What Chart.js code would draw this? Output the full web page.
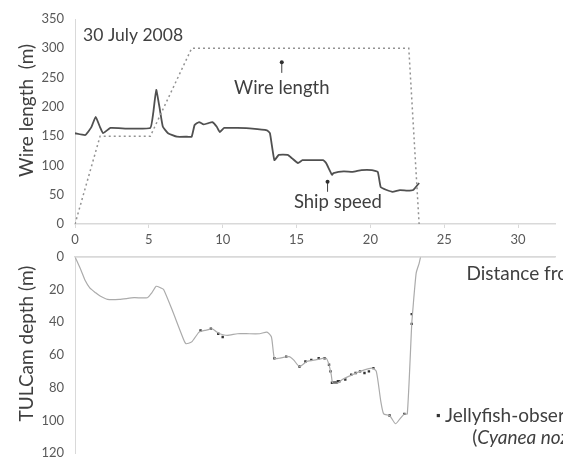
<!DOCTYPE html>
<html><head><meta charset="utf-8">
<script src="https://cdn.jsdelivr.net/npm/chart.js@4"></script>
<style>
html,body{margin:0;padding:0;background:#fff;overflow:hidden;width:563px;height:460px}
#c1{position:absolute;left:0;top:0}
#c2{position:absolute;left:0;top:238px}
</style></head><body>
<canvas id="c1" width="563" height="250"></canvas>
<canvas id="c2" width="563" height="234"></canvas>
<script>
// ---- data ----
const xTicks = [0, 5, 10, 15, 20, 25, 30];
const wireTicks = [0, 50, 100, 150, 200, 250, 300, 350];
const depthTicks = [0, 20, 40, 60, 80, 100, 120];

// Wire length (dotted trapezoid)
const wireX = [0, 1.7, 5.1, 7.9, 22.6, 23.3];
const wireY = [0, 150, 150, 300, 300, 0];

// Ship speed (solid dark line)
const shipX = [0, 0.7, 1.1, 1.4, 1.7, 1.9, 2.4, 3.5, 5.1, 5.3, 5.5, 5.75, 5.95, 6.3, 6.9, 7.6, 7.9, 8.1, 8.4, 8.7, 9.0, 9.3, 9.6, 9.8, 10.1, 11.0, 12.0, 13.0, 13.2, 13.5, 13.8, 14.4, 14.7, 15.1, 15.4, 16.0, 16.8, 17.0, 17.4, 17.5, 18.2, 18.8, 19.4, 20.1, 20.5, 20.7, 21.1, 21.5, 22.0, 22.5, 22.9, 23.3];
const shipY = [155, 152, 165, 183, 165, 155, 164, 163, 164, 190, 229, 195, 166, 155, 149, 149, 149, 169, 174, 170, 172, 174, 166, 157, 164, 164, 163, 160, 155, 109, 118, 118, 112, 104, 109, 109, 109, 104, 84, 87, 90, 89, 92, 92, 89, 63, 58, 55, 58, 57, 58, 70];

// TULCam depth (light grey line)
const depthX = [0, 0.4, 0.7, 1.0, 1.4, 1.7, 2.2, 3.0, 4.0, 4.9, 5.2, 5.5, 5.8, 6.0, 6.6, 7.2, 7.5, 7.9, 8.4, 8.8, 9.3, 9.6, 9.8, 10.3, 11.0, 11.6, 12.5, 13.0, 13.3, 13.5, 13.8, 14.5, 14.8, 15.2, 15.7, 16.3, 17.0, 17.2, 17.35, 17.45, 17.8, 18.1, 18.8, 19.3, 20.1, 20.4, 20.7, 20.9, 21.3, 21.7, 22.0, 22.3, 22.5, 22.8, 22.85, 23.1, 23.3, 23.4];
const depthY = [0, 8, 14.7, 19, 22, 24, 26, 26, 25, 25, 22, 18, 19, 20, 33, 47, 53, 52, 46, 45, 44, 46, 47, 48, 47, 47, 47, 46, 49, 62, 62, 61, 63, 67, 64, 63, 62, 66, 72, 77, 77, 75, 72, 70, 68, 70, 88, 96, 97, 102, 99, 96, 96, 41, 35, 10, 4, 0];

// Jellyfish observations
const jellyX = [8.5, 9.2, 9.7, 10.0, 13.5, 14.3, 15.2, 15.6, 16.0, 16.5, 16.9, 17.2, 17.3, 17.4, 17.5, 17.6, 17.7, 17.8, 17.9, 18.3, 18.7, 19.0, 19.3, 19.6, 19.9, 20.2, 21.3, 22.3, 22.8, 22.8];
const jellyY = [45, 44, 47, 49, 62, 61, 67, 64, 63, 62, 62, 66, 70, 77, 77, 77, 77, 76, 76, 75, 72, 71, 70, 71, 70, 68, 97, 96, 41, 35];

// ---- helpers ----
const FONT = 'Lato, "Open Sans", sans-serif';
const pts = (xs, ys) => xs.map((x, i) => ({x, y: ys[i]}));
const AXIS = '#d9d9d9';
const TXT = '#595959';

const notesPlugin = {
  id: 'notes',
  afterDatasetsDraw(chart, args, opts) {
    const ctx = chart.ctx, xs = chart.scales.x, ys = chart.scales.y;
    ctx.save();
    if (opts.topLine) {
      ctx.strokeStyle = AXIS; ctx.lineWidth = 1.5;
      ctx.beginPath(); ctx.moveTo(chart.chartArea.left, chart.chartArea.top); ctx.lineTo(chart.chartArea.right, chart.chartArea.top); ctx.stroke();
    }
    (opts.items || []).forEach(it => {
      const px = it.type === 'vtext' ? it.px : xs.getPixelForValue(it.x);
      const py = ys.getPixelForValue(it.y);
      if (it.type === 'text' || it.type === 'vtext') {
        ctx.save();
        ctx.translate(px, py);
        if (it.type === 'vtext') ctx.rotate(-Math.PI / 2);
        ctx.textBaseline = 'middle';
        ctx.textAlign = it.align || 'left';
        let cx = 0;
        (it.parts || [{t: it.text}]).forEach(p => {
          ctx.font = (p.italic ? 'italic ' : '') + (it.size || 15) + 'px ' + FONT;
          ctx.fillStyle = it.color || '#404040';
          ctx.fillText(p.t, cx, 0);
          cx += ctx.measureText(p.t).width;
        });
        ctx.restore();
      } else if (it.type === 'arrow') {
        const py2 = ys.getPixelForValue(it.y2);
        ctx.strokeStyle = '#404040'; ctx.lineWidth = 1;
        ctx.beginPath(); ctx.moveTo(px, py); ctx.lineTo(px, py2); ctx.stroke();
        ctx.fillStyle = '#303030';
        ctx.beginPath(); ctx.arc(px, py, 2, 0, Math.PI * 2); ctx.fill();
      } else if (it.type === 'marker') {
        ctx.fillStyle = '#333';
        ctx.fillRect(px - 1.6, py - 1.6, 3.2, 3.2);
      }
    });
    ctx.restore();
  }
};

const setXTicks = s => { s.ticks = xTicks.map(v => ({value: v})); };

// ---- top chart ----
new Chart(document.getElementById('c1'), {
  type: 'line',
  data: {
    datasets: [
      {label: 'Wire length', data: pts(wireX, wireY), borderColor: '#929292', borderWidth: 1.5, borderDash: [2, 3], pointRadius: 0, tension: 0},
      {label: 'Ship speed', data: pts(shipX, shipY), borderColor: '#505050', borderWidth: 1.8, pointRadius: 0, tension: 0.12}
    ]
  },
  options: {
    responsive: false, animation: false, devicePixelRatio: 1,
    layout: {autoPadding: false, padding: {top: 19, right: 8, left: 14, bottom: 0}},
    plugins: {
      legend: {display: false}, tooltip: {enabled: false},
      notes: {items: [
        {type: 'vtext', text: 'Wire length  (m)', px: 27, y: 194, align: 'center', size: 19},
        {type: 'text', text: '30 July 2008', x: 0.55, y: 322, size: 17.5},
        {type: 'arrow', x: 14.0, y: 276, y2: 258},
        {type: 'text', text: 'Wire length', x: 14.0, y: 232, align: 'center', size: 18.5},
        {type: 'arrow', x: 17.1, y: 72, y2: 55},
        {type: 'text', text: 'Ship speed', x: 17.8, y: 37, align: 'center', size: 18.5}
      ]}
    },
    scales: {
      x: {
        type: 'linear', min: 0, max: 32.5,
        afterBuildTicks: setXTicks,
        afterFit: s => { s.height = 26; },
        ticks: {autoSkip: false, color: TXT, font: {family: FONT, size: 13}, padding: 4, maxRotation: 0},
        grid: {display: true, drawOnChartArea: false, drawTicks: true, tickLength: 4, color: AXIS},
        border: {color: AXIS, width: 1.5}
      },
      y: {
        min: 0, max: 350,
        afterBuildTicks: s => { s.ticks = wireTicks.map(v => ({value: v})); },
        afterFit: s => { s.width = 61; },
        ticks: {color: TXT, font: {family: FONT, size: 13}, padding: 11},
        grid: {display: false, drawTicks: false},
        border: {display: true, color: AXIS, width: 1}
      }
    }
  },
  plugins: [notesPlugin]
});

// ---- bottom chart ----
new Chart(document.getElementById('c2'), {
  type: 'line',
  data: {
    datasets: [
      {label: 'TULCam depth', data: pts(depthX, depthY), borderColor: '#ababab', borderWidth: 1.2, pointRadius: 0, tension: 0.2},
      {label: 'Jellyfish-observations', data: pts(jellyX, jellyY), showLine: false, pointStyle: 'rect', pointRadius: 1.7, pointBackgroundColor: '#333', pointBorderWidth: 0}
    ]
  },
  options: {
    responsive: false, animation: false, devicePixelRatio: 1,
    layout: {autoPadding: false, padding: {top: 6, right: 8, left: 14, bottom: 8}},
    plugins: {
      legend: {display: false}, tooltip: {enabled: false},
      notes: {topLine: true, items: [
        {type: 'vtext', text: 'TULCam depth (m)', px: 27, y: 53, align: 'center', size: 19},
        {type: 'text', text: 'Distance from Dalian (km)', x: 26.5, y: 10.5, size: 19},
        {type: 'marker', x: 24.6, y: 97},
        {type: 'text', text: 'Jellyfish-observations', x: 25.05, y: 97, size: 19},
        {type: 'text', x: 26.9, y: 110.5, size: 19, parts: [{t: '('}, {t: 'Cyanea nozakii', italic: true}, {t: ')'}]}
      ]}
    },
    scales: {
      x: {
        type: 'linear', position: 'top', min: 0, max: 32.5,
        afterBuildTicks: setXTicks,
        afterFit: s => { s.height = 0; },
        ticks: {display: false},
        grid: {display: true, drawOnChartArea: false, drawTicks: false, color: AXIS},
        border: {color: AXIS, width: 1.5}
      },
      y: {
        reverse: true, min: 0, max: 120,
        afterBuildTicks: s => { s.ticks = depthTicks.map(v => ({value: v})); },
        afterFit: s => { s.width = 61; },
        ticks: {color: TXT, font: {family: FONT, size: 13}, padding: 11},
        grid: {display: false, drawTicks: false},
        border: {display: true, color: AXIS, width: 1}
      }
    }
  },
  plugins: [notesPlugin]
});
</script>
</body></html>
